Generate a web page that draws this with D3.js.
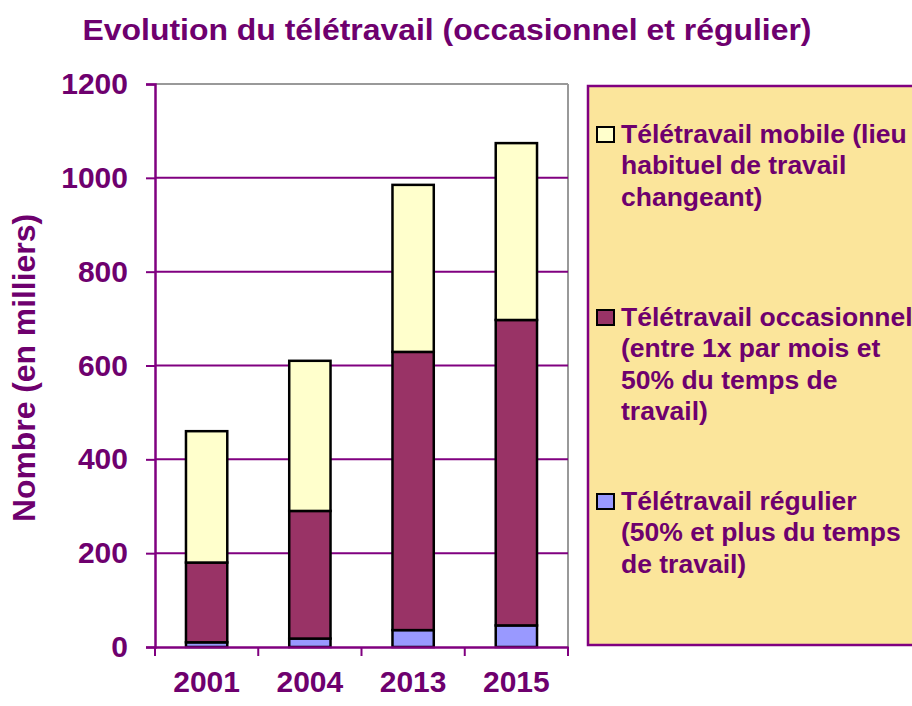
<!DOCTYPE html>
<html>
<head>
<meta charset="utf-8">
<script src="https://cdn.jsdelivr.net/npm/d3@7"></script>
<style>
  html, body { margin: 0; padding: 0; background: #fff; }
  svg text { font-family: "Liberation Sans", Arial, sans-serif; font-weight: bold; }
</style>
</head>
<body>
<svg id="chart" width="912" height="706"></svg>
<script>
const years = ["2001", "2004", "2013", "2015"];
const regulier = [10, 18, 36, 46];
const occasionnel = [170, 272, 593, 651];
const mobile = [280, 320, 356, 377];
const yTicks = [0, 200, 400, 600, 800, 1000, 1200];
const seriesNames = ["Télétravail régulier", "Télétravail occasionnel", "Télétravail mobile"];
const legendLines = [
  ["Télétravail mobile (lieu", "habituel de travail", "changeant)"],
  ["Télétravail occasionnel", "(entre 1x par mois et", "50% du temps de", "travail)"],
  ["Télétravail régulier", "(50% et plus du temps", "de travail)"]
];

const colors = { "Télétravail régulier": "#9999FF", "Télétravail occasionnel": "#993366", "Télétravail mobile": "#FFFFCC" };
const purple = "#6E006E";
const gridColor = "#800080";

const svg = d3.select("#chart");
const L = 155, R = 568, T = 84, B = 647;

const rows = years.map((y, i) => ({
  year: y,
  "Télétravail régulier": regulier[i],
  "Télétravail occasionnel": occasionnel[i],
  "Télétravail mobile": mobile[i]
}));

const x = d3.scaleBand().domain(years).range([L, R]).paddingInner(0.6).paddingOuter(0.3);
const xb = d3.scaleBand().domain(years).range([L, R]);
const y = d3.scaleLinear().domain([0, 1200]).range([B, T]);

// title
svg.append("text").attr("x", 447).attr("y", 40).attr("text-anchor", "middle")
  .attr("font-size", 30).attr("fill", purple)
  .attr("textLength", 729).attr("lengthAdjust", "spacingAndGlyphs")
  .text("Evolution du télétravail (occasionnel et régulier)");

// plot border top/right (gray)
svg.append("line").attr("x1", L).attr("x2", R).attr("y1", T).attr("y2", T).attr("stroke", "#999").attr("stroke-width", 2);
svg.append("line").attr("x1", R).attr("x2", R).attr("y1", T).attr("y2", B).attr("stroke", "#999").attr("stroke-width", 2);

// gridlines
svg.append("g").selectAll("line").data(yTicks.filter(t => t > 0 && t < 1200)).join("line")
  .attr("x1", L).attr("x2", R).attr("y1", d => y(d)).attr("y2", d => y(d))
  .attr("stroke", gridColor).attr("stroke-width", 2);

// bars
const stack = d3.stack().keys(seriesNames)(rows);
svg.append("g").selectAll("g").data(stack).join("g")
  .attr("fill", d => colors[d.key])
  .selectAll("rect").data(d => d).join("rect")
  .attr("x", d => x(d.data.year))
  .attr("width", x.bandwidth())
  .attr("y", d => y(d[1]))
  .attr("height", d => y(d[0]) - y(d[1]))
  .attr("stroke", "#000").attr("stroke-width", 2.5);

// y axis
const yAxis = svg.append("g").attr("transform", `translate(${L},0)`)
  .call(d3.axisLeft(y).tickValues(yTicks).tickSize(9).tickPadding(18).tickFormat(d3.format("d")));
yAxis.select(".domain").attr("stroke", gridColor).attr("stroke-width", 2.5);
yAxis.selectAll(".tick line").attr("stroke", gridColor).attr("stroke-width", 2);
yAxis.selectAll(".tick text").attr("fill", purple).attr("font-size", 30)
  .attr("font-family", "Liberation Sans, Arial, sans-serif").attr("font-weight", "bold");

// x axis
const xAxis = svg.append("g").attr("transform", `translate(0,${B})`)
  .call(d3.axisBottom(xb).tickSize(0).tickPadding(24));
xAxis.select(".domain").attr("stroke", gridColor).attr("stroke-width", 2.5);
xAxis.selectAll(".tick text").attr("fill", purple).attr("font-size", 30)
  .attr("font-family", "Liberation Sans, Arial, sans-serif").attr("font-weight", "bold")
  .attr("dy", "0.71em");
// category boundary ticks
const bounds = years.map(yy => xb(yy)).concat([R]);
svg.append("g").selectAll("line").data(bounds).join("line")
  .attr("x1", d => d).attr("x2", d => d).attr("y1", B).attr("y2", B + 9)
  .attr("stroke", gridColor).attr("stroke-width", 2);

// y label
svg.append("text").attr("transform", "translate(35,368) rotate(-90)")
  .attr("text-anchor", "middle").attr("font-size", 31).attr("fill", purple)
  .attr("textLength", 308).attr("lengthAdjust", "spacingAndGlyphs")
  .text("Nombre (en milliers)");

// legend
const lg = svg.append("g");
lg.append("rect").attr("x", 588).attr("y", 86).attr("width", 340).attr("height", 559)
  .attr("fill", "#FBE59B").attr("stroke", gridColor).attr("stroke-width", 2.5);
const legendOrder = ["Télétravail mobile", "Télétravail occasionnel", "Télétravail régulier"];
const itemTop = [143, 326, 510];
legendOrder.forEach((k, i) => {
  lg.append("rect").attr("x", 597).attr("y", itemTop[i] - 16).attr("width", 17).attr("height", 15)
    .attr("fill", colors[k]).attr("stroke", "#000").attr("stroke-width", 2);
  const t = lg.append("text").attr("x", 621).attr("y", itemTop[i]).attr("font-size", 26.5).attr("fill", purple);
  legendLines[i].forEach((ln, j) => {
    t.append("tspan").attr("x", 621).attr("dy", j === 0 ? 0 : 31.3).text(ln);
  });
});
</script>
</body>
</html>
